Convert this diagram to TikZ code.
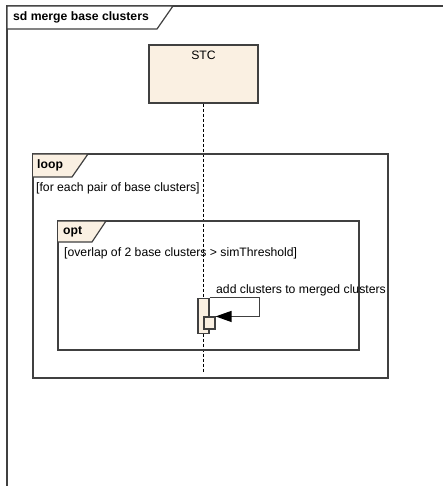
\documentclass[tikz,border=0pt]{standalone}
\usepackage{fontspec}
\setmainfont{Liberation Sans}
\usetikzlibrary{arrows.meta,positioning}
\definecolor{linec}{HTML}{404040}
\definecolor{tabbg}{HTML}{FAF0E2}
\tikzset{
  fr/.style={draw=linec,line width=1.5pt},
  tab/.style={draw=linec,line width=1.2pt,fill=tabbg},
  lbl/.style={font=\fontsize{12.2}{14}\selectfont,inner sep=0pt,anchor=west},
  kw/.style={lbl,font=\fontsize{12.2}{14}\selectfont\bfseries},
  obj/.style={draw=linec,line width=1.3pt,fill=tabbg,inner sep=0pt},
  act/.style={draw=linec,line width=1.1pt,fill=tabbg,inner sep=0pt},
  life/.style={black,line width=0.9pt,dash pattern=on 3pt off 2pt},
  msg/.style={-{Triangle[length=16pt,width=11pt,black]},draw=linec,line width=1.2pt}
}
\begin{document}
\begin{tikzpicture}[x=1pt,y=-1pt]
\useasboundingbox (0,0) rectangle (443,486);
% diagram frame
\draw[fr] (7,520) -- (7,6) -- (480,6);
\draw[linec,line width=1.2pt,fill=white] (7,6) -- (173,6) -- (157,29) -- (7,29) -- cycle;
\node[kw] (title) at (13,17.5) {sd merge base clusters};
% lifeline
\node[obj,minimum width=109pt,minimum height=58pt] (stc) at (203.5,74) {};
\node[lbl,anchor=north,below=6.5pt of stc.north] (stcname) {STC};
\coordinate (lifeend) at (203.5,372);
\draw[life] (stc.south) -- (lifeend);
% loop fragment
\draw[fr] (33,154) rectangle (388,378);
\draw[tab] (33,154) -- (88,154) -- (72,177) -- (33,177);
\node[kw] (loopkw) at (37,165.5) {loop};
\node[lbl] (loopguard) at (36,188) {[for each pair of base clusters]};
% opt fragment
\draw[fr] (58,221) rectangle (359,350);
\draw[tab] (58,221) -- (106,221) -- (92,242) -- (58,242);
\node[kw] (optkw) at (63,231.5) {opt};
\node[lbl] (optguard) at (64,253) {[overlap of 2 base clusters > simThreshold]};
% activations and self message
\node[act,minimum width=11pt,minimum height=35pt] (bar) at (203.5,315.8) {};
\node[act,minimum width=11pt,minimum height=12pt] (nest) at (209.5,323) {};
\draw[msg] (bar.north east) -- ++(50,0) |- (nest.north east);
\node[lbl] (msgtext) at (216,290) {add clusters to merged clusters};
\end{tikzpicture}
\end{document}
